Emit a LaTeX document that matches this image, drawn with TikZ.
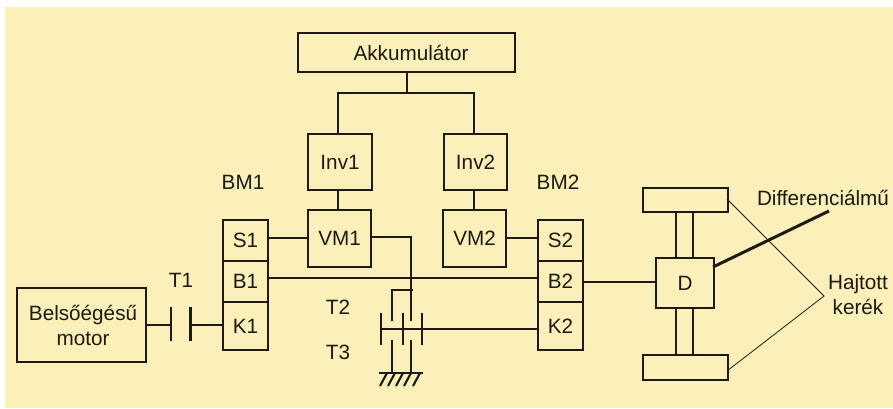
\documentclass[tikz,border=0pt]{standalone}
\usepackage{fontspec}
\setmainfont{Liberation Sans}
\definecolor{cream}{HTML}{FBF0B9}
\definecolor{ink}{HTML}{1C1A12}
\tikzset{
  box/.style={draw=ink,line width=2.1pt,inner sep=0pt,anchor=north west,text=ink,align=center,font=\fontsize{20.7}{25}\selectfont},
  lbl/.style={text=ink,inner sep=0pt,align=center,font=\fontsize{20.7}{25}\selectfont},
  wire/.style={draw=ink,line width=2.1pt},
  shaft/.style={draw=ink,line width=1.6pt},
  thin wire/.style={draw=ink,line width=0.8pt},
  thick wire/.style={draw=ink,line width=3pt}
}
\newcommand{\bx}[6]{\node[box,minimum width=#4pt-#2pt,minimum height=#5pt-#3pt] (#1) at (#2,#3) {#6};}
\begin{document}
\begin{tikzpicture}[x=1pt,y=-1pt]
\useasboundingbox (0,0) rectangle (893,408);
\fill[white] (0,0) rectangle (893,408);
\fill[cream] (5,7) rectangle (893,408);
\bx{akku}{297}{32}{514}{71}{\hspace*{9pt}Akkumulátor}
\bx{inva}{307}{133}{371}{189}{Inv1}
\bx{invb}{443}{133}{506}{189}{Inv2}
\bx{vma}{307}{209}{370}{266}{VM1}
\bx{vmb}{442}{209}{505}{266}{VM2}
\bx{sa}{222}{219}{267}{260}{S1}
\bx{ba}{222}{260}{267}{301}{B1}
\bx{ka}{222}{301}{267}{349}{K1}
\bx{sb}{537}{219}{582}{260}{S2}
\bx{bb}{537}{260}{582}{301}{B2}
\bx{kb}{537}{301}{582}{349}{K2}
\bx{mot}{16}{287}{145}{361}{\hspace*{3pt}Belsőégésű\\\hspace*{3pt}motor}
\bx{diff}{655}{257}{713}{307}{D}
\bx{wt}{642}{187}{727}{211}{}
\bx{wb}{642}{354}{727}{379}{}
\node[lbl] (bma) at (243,182) {BM1};
\node[lbl] (bmb) at (558,182) {BM2};
\node[lbl] (ta) at (181,280) {T1};
\node[lbl] (tb) at (338,307) {T2};
\node[lbl] (tc) at (338,352) {T3};
\node[lbl] (dl) at (823,198) {Differenciálmű};
\node[lbl] (hk) at (858,295) {Hajtott\\kerék};
% power bus
\coordinate (j) at (akku.south |- 0,93);
\draw[wire] (akku.south) -- (j);
\draw[wire] (inva.north -| 338,0) -- (338,93) -- (474,93) -- (474,133);
\draw[wire] (338,189) -- (338,209);
\draw[wire] (474,189) -- (474,209);
\draw[wire] (sa.east |- 0,238) -- (vma.west |- 0,238);
\draw[wire] (vmb.east |- 0,238) -- (sb.west |- 0,238);
% planetary gear
\coordinate (ga) at (392,290);
\coordinate (gb) at (411,237);
\draw[wire] (vma.east |- gb) -- (gb) -- (411,321);
\draw[wire] (ga |- 0,321) -- (ga) -- (413,290);
\draw[shaft] (ba.east |- 0,278) -- (bb.west |- 0,278);
\draw[wire] (381,313) -- (381,345);
\draw[wire] (403,313) -- (403,345);
\draw[wire] (422,313) -- (422,345);
\draw[shaft] (381,329) -- (kb.west |- 0,329);
\draw[wire] (392,340) -- (392,373);
\draw[wire] (411,340) -- (411,373);
\draw[wire] (379,373) -- (423,373);
\foreach \hx in {387,395,403,411,420} \draw[wire] (\hx,373) -- (\hx-7,386);
% clutch T1
\draw[wire] (mot.east |- 0,325) -- (171,325);
\draw[wire] (171,307) -- (171,341);
\draw[wire] (190.5,307) -- (190.5,341);
\draw[wire] (190.5,325) -- (ka.west |- 0,325);
% drive
\draw[wire] (bb.east |- 0,282) -- (diff.west |- 0,282);
\draw[wire] (676,211) -- (676,257);
\draw[wire] (693,211) -- (693,257);
\draw[wire] (676,307) -- (676,354);
\draw[wire] (693,307) -- (693,354);
\draw[thick wire] (713,267) -- (829,211);
\draw[thin wire] (727,199) -- (824,296) -- (727,371);
\end{tikzpicture}
\end{document}
